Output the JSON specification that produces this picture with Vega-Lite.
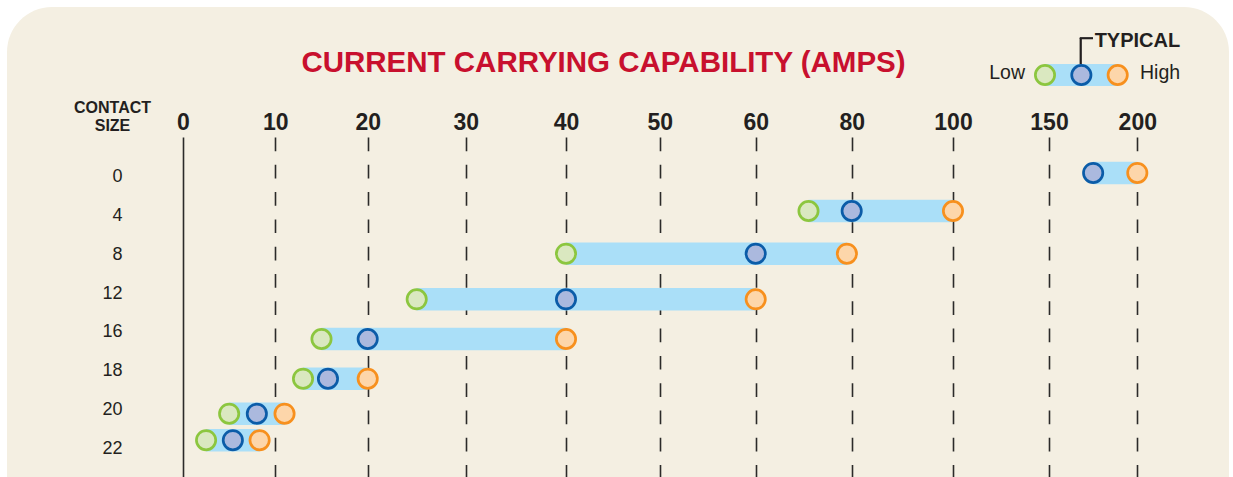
{
  "$schema": "https://vega.github.io/schema/vega-lite/v6.json",
  "width": 1222,
  "height": 530,
  "padding": {"left": 7, "top": 7, "right": 4, "bottom": 0},
  "autosize": {"type": "none"},
  "background": "white",
  "config": {
    "font": "Liberation Sans",
    "view": {"fill": "#f4efe2", "stroke": null, "cornerRadius": 45}
  },
  "title": {
    "text": "CURRENT CARRYING CAPABILITY (AMPS)",
    "orient": "top",
    "anchor": "middle",
    "baseline": "alphabetic",
    "offset": -94,
    "dx": -14.5,
    "font": "Liberation Sans",
    "fontSize": 29.5,
    "fontWeight": "bold",
    "color": "#c8102e"
  },
  "data": {
    "values": [
      {"size": 0, "level": "Typical", "amps": 175},
      {"size": 0, "level": "High", "amps": 200},
      {"size": 4, "level": "Low", "amps": 71},
      {"size": 4, "level": "Typical", "amps": 80},
      {"size": 4, "level": "High", "amps": 100},
      {"size": 8, "level": "Low", "amps": 40},
      {"size": 8, "level": "Typical", "amps": 60},
      {"size": 8, "level": "High", "amps": 79},
      {"size": 12, "level": "Low", "amps": 25},
      {"size": 12, "level": "Typical", "amps": 40},
      {"size": 12, "level": "High", "amps": 60},
      {"size": 16, "level": "Low", "amps": 15},
      {"size": 16, "level": "Typical", "amps": 20},
      {"size": 16, "level": "High", "amps": 40},
      {"size": 18, "level": "Low", "amps": 13},
      {"size": 18, "level": "Typical", "amps": 15.7},
      {"size": 18, "level": "High", "amps": 20},
      {"size": 20, "level": "Low", "amps": 5},
      {"size": 20, "level": "Typical", "amps": 8},
      {"size": 20, "level": "High", "amps": 11},
      {"size": 22, "level": "Low", "amps": 2.5},
      {"size": 22, "level": "Typical", "amps": 5.4},
      {"size": 22, "level": "High", "amps": 8.3}
    ]
  },
  "resolve": {"scale": {"x": "independent", "y": "independent"}},
  "layer": [
    {
      "layer": [
        {
          "mark": {"type": "bar", "height": 22.5, "color": "#aadff8"},
          "encoding": {
            "x": {
              "field": "amps", "aggregate": "min", "type": "quantitative",
              "scale": {
                "domain": [0, 10, 20, 30, 40, 50, 60, 80, 100, 150, 200],
                "range": [176, 268.3, 360.7, 458.7, 559, 652.7, 748.7, 844.7, 946, 1042, 1130.3],
                "nice": false, "zero": false
              },
              "axis": {
                "orient": "top",
                "offset": -130,
                "values": [0, 10, 20, 30, 40, 50, 60, 80, 100, 150, 200],
                "format": "d",
                "title": null,
                "domain": false,
                "grid": false,
                "tickSize": -345,
                "tickWidth": 1.6,
                "tickColor": "#2b2a29",
                "tickDash": {"condition": {"test": "datum.value === 0", "value": []}, "value": [13.7, 13.6]},
                "labelPadding": 352.7,
                "labelBaseline": "alphabetic",
                "labelFont": "Liberation Sans",
                "labelFontSize": 23,
                "labelFontWeight": "bold",
                "labelColor": "#231f20",
                "labelOverlap": false,
                "labelFlush": false
              }
            },
            "x2": {"field": "amps", "aggregate": "max"},
            "y": {
              "field": "size", "type": "quantitative",
              "scale": {
                "domain": [0, 4, 8, 12, 16, 18, 20, 22],
                "range": [162, 204, 246.7, 292.3, 332, 371.7, 406.7, 438.7],
                "nice": false, "zero": false
              },
              "axis": null
            }
          }
        },
        {
          "mark": {"type": "point", "shape": "circle", "filled": true, "size": 372, "strokeWidth": 2.7, "opacity": 1},
          "encoding": {
            "x": {"field": "amps", "type": "quantitative"},
            "y": {"field": "size", "type": "quantitative"},
            "fill": {
              "field": "level", "type": "nominal",
              "scale": {"domain": ["Low", "Typical", "High"], "range": ["#dae8c0", "#abb9de", "#fdd6aa"]},
              "legend": null
            },
            "stroke": {
              "field": "level", "type": "nominal",
              "scale": {"domain": ["Low", "Typical", "High"], "range": ["#8cc63f", "#0b5ca8", "#f7901e"]},
              "legend": null
            }
          }
        }
      ]
    },
    {
      "mark": {"type": "text", "text": ""},
      "encoding": {
        "y": {
          "field": "size", "type": "ordinal",
          "scale": {"type": "point", "range": [169.5, 441.5], "padding": 0},
          "axis": {
            "orient": "left",
            "offset": -130,
            "ticks": false,
            "domain": false,
            "grid": false,
            "labelPadding": 15,
            "labelAlign": "right",
            "labelBaseline": "middle",
            "labelFont": "Liberation Sans",
            "labelFontSize": 18,
            "labelColor": "#231f20",
            "title": ["CONTACT", "SIZE"],
            "titleAngle": 0,
            "titleAlign": "center",
            "titleBaseline": "alphabetic",
            "titleX": -25,
            "titleY": 105.7,
            "titleFont": "Liberation Sans",
            "titleFontSize": 16,
            "titleFontWeight": "bold",
            "titleLineHeight": 18.3,
            "titleColor": "#231f20"
          }
        }
      }
    },
    {
      "data": {"values": [{"level": "Low"}, {"level": "Typical"}, {"level": "High"}]},
      "encoding": {
        "x": {
          "field": "level", "type": "nominal",
          "scale": {"type": "point", "domain": ["Low", "Typical", "High"], "range": [1038, 1110.7], "padding": 0},
          "axis": null
        },
        "y": {
          "datum": "key", "type": "nominal",
          "scale": {"type": "point", "range": [68, 68]},
          "axis": null
        }
      },
      "layer": [
        {
          "mark": {"type": "rule", "color": "#aadff8", "strokeWidth": 21.5, "strokeCap": "butt"},
          "encoding": {
            "x": {"datum": "Low", "type": "nominal"},
            "x2": {"datum": "High"}
          }
        },
        {
          "mark": {"type": "rule", "color": "#231f20", "strokeWidth": 1.6, "yOffset": -11, "y2Offset": -36.7, "xOffset": -0.7, "x2Offset": -0.7},
          "encoding": {
            "x": {"datum": "Typical", "type": "nominal"},
            "y2": {"datum": "key"}
          }
        },
        {
          "mark": {"type": "rule", "color": "#231f20", "strokeWidth": 1.6, "yOffset": -36.7, "xOffset": -1.5, "x2Offset": 11.6},
          "encoding": {
            "x": {"datum": "Typical", "type": "nominal"},
            "x2": {"datum": "Typical"}
          }
        },
        {
          "mark": {"type": "point", "shape": "circle", "filled": true, "size": 372, "strokeWidth": 2.7, "opacity": 1},
          "encoding": {
            "fill": {"field": "level", "type": "nominal", "legend": null},
            "stroke": {"field": "level", "type": "nominal", "legend": null}
          }
        },
        {
          "transform": [{"filter": "datum.level === 'Low'"}],
          "mark": {"type": "text", "align": "right", "baseline": "alphabetic", "dx": -20, "dy": 4.3, "fontSize": 19.5, "color": "#231f20"},
          "encoding": {"text": {"field": "level"}}
        },
        {
          "transform": [{"filter": "datum.level === 'High'"}],
          "mark": {"type": "text", "align": "left", "baseline": "alphabetic", "dx": 22.3, "dy": 4.3, "fontSize": 19.5, "color": "#231f20"},
          "encoding": {"text": {"field": "level"}}
        },
        {
          "transform": [{"filter": "datum.level === 'Typical'"}],
          "mark": {"type": "text", "align": "left", "baseline": "alphabetic", "dx": 13.3, "dy": -28.3, "fontSize": 20, "fontWeight": "bold", "color": "#231f20"},
          "encoding": {"text": {"value": "TYPICAL"}}
        }
      ]
    }
  ]
}
